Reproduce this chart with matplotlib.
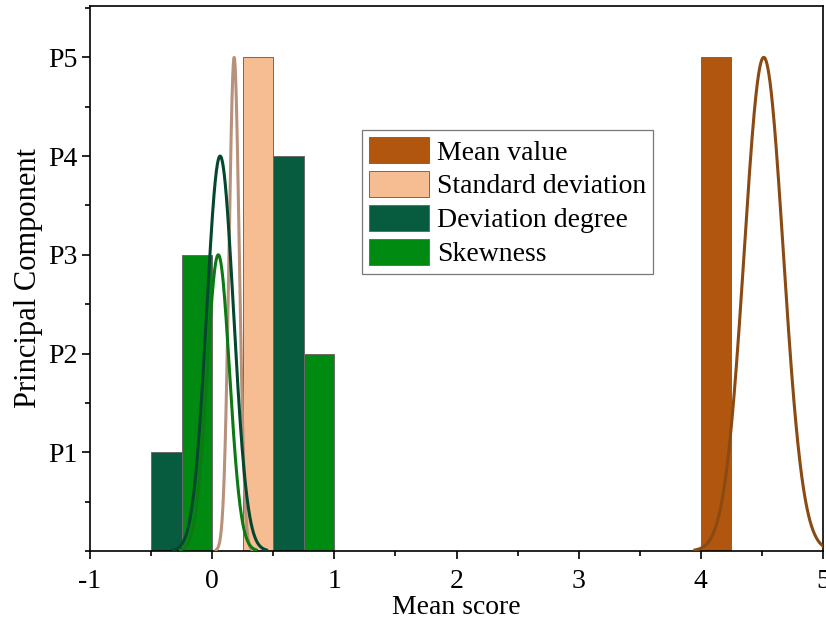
import numpy as np
import matplotlib
matplotlib.use('Agg')
import matplotlib.pyplot as plt
from matplotlib.ticker import MultipleLocator

plt.rcParams['font.family'] = ['Liberation Serif', 'DejaVu Serif']
plt.rcParams['axes.unicode_minus'] = False

# series names (legend order)
names = ['Mean value', 'Standard deviation', 'Deviation degree', 'Skewness']

# histogram bins (left edge, bin width 0.25) and counts per series
bin_width = 0.25
mean_bins = [4.0]
mean_counts = [5]
std_bins = [0.25]
std_counts = [5]
dev_bins = [-0.5, 0.5]
dev_counts = [1, 4]
skew_bins = [-0.25, 0.75]
skew_counts = [3, 2]

# normal fit curves: centre, sigma, peak height
fit_mu = [4.515, 0.18, 0.065, 0.05]
fit_sigma = [0.16, 0.042, 0.11, 0.092]
fit_peak = [5, 5, 4, 3]

bar_colors = ['#B0560E', '#F6BD93', '#075C3F', '#008A12']
line_colors = ['#8A4A12', '#B8917A', '#03482E', '#0B7A12']

ytick_labels = ['P1', 'P2', 'P3', 'P4', 'P5']

fig = plt.figure(figsize=(8.26, 6.23), dpi=100)
ax = fig.add_axes([90/826, 72/623, 733/826, 545/623])

bins = [mean_bins, std_bins, dev_bins, skew_bins]
counts = [mean_counts, std_counts, dev_counts, skew_counts]
for i in range(4):
    ax.bar(bins[i], counts[i], width=bin_width, align='edge', color=bar_colors[i],
           edgecolor='#6a6a6a', linewidth=0.7, label=names[i], zorder=2)

xs = np.linspace(-1, 5, 3000)
for i in range(4):
    ys = fit_peak[i]*np.exp(-0.5*((xs-fit_mu[i])/fit_sigma[i])**2)
    m = ys > 0.01
    ax.plot(xs[m], ys[m], color=line_colors[i], lw=2.2, zorder=3)

ax.set_xlim(-1, 5)
ax.set_ylim(0, 5.52)
ax.xaxis.set_major_locator(MultipleLocator(1))
ax.xaxis.set_minor_locator(MultipleLocator(0.5))
ax.set_yticks([1, 2, 3, 4, 5])
ax.set_yticklabels(ytick_labels)
ax.yaxis.set_minor_locator(MultipleLocator(0.5))
ax.tick_params(which='major', direction='out', length=6, width=1.2, labelsize=20, pad=3)
ax.tick_params(axis='x', which='major', pad=7)
ax.tick_params(which='minor', direction='out', length=3.5, width=1.2)
ax.tick_params(top=False, right=False, which='both')
for s in ax.spines.values():
    s.set_linewidth(1.2)

ax.set_xlabel('Mean score', fontsize=20, labelpad=1)
ax.set_ylabel('Principal Component', fontsize=22, labelpad=4)

leg = ax.legend(loc='upper left', bbox_to_anchor=(0.371, 0.772), fontsize=20,
                handlelength=2.15, handleheight=1.05, handletextpad=0.3,
                labelspacing=0.2, borderpad=0.25, borderaxespad=0,
                fancybox=False, edgecolor='#777777', framealpha=1)
leg.get_frame().set_linewidth(0.9)

fig.savefig('out.png', dpi=100, facecolor='white')
plt.close(fig)
